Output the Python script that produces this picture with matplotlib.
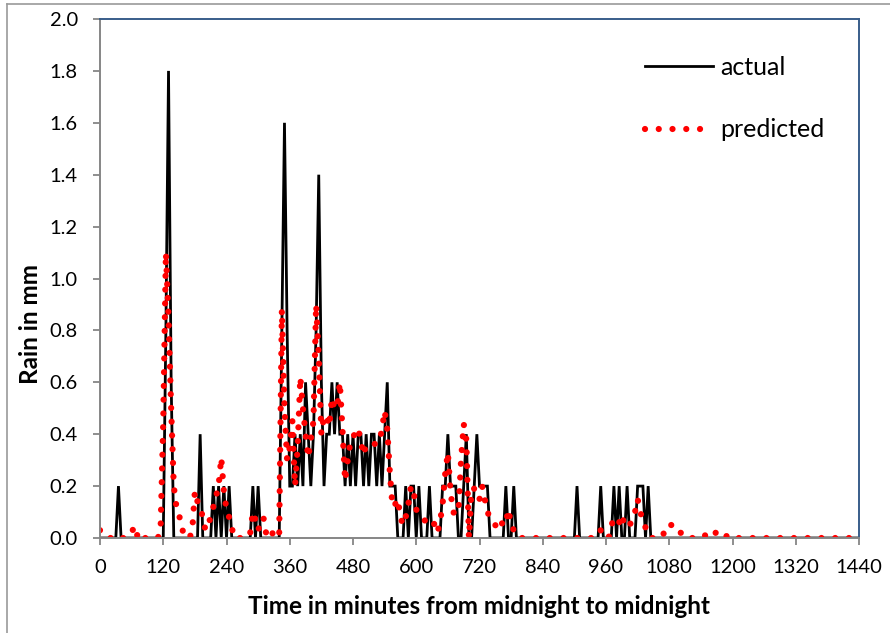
import matplotlib
matplotlib.use("Agg")
import matplotlib.pyplot as plt
import numpy as np
from matplotlib.lines import Line2D

# time step 5 minutes, 0..1440
step = 5
# actual rain (mm), one row per hour (12 values, 5-min steps)
actual_rows = [
    [0, 0, 0, 0, 0, 0, 0, 0.2, 0, 0, 0, 0],
    [0, 0, 0, 0, 0, 0, 0, 0, 0, 0, 0, 0],
    [0, 0.8, 1.8, 0.6, 0, 0, 0, 0, 0, 0, 0, 0],
    [0, 0, 0.4, 0, 0, 0, 0, 0.2, 0, 0.2, 0, 0.2],
    [0, 0.2, 0, 0, 0, 0, 0, 0, 0, 0, 0.2, 0],
    [0.2, 0, 0, 0, 0, 0, 0, 0, 0, 0.8, 1.6, 0.8],
    [0.2, 0.2, 0.4, 0.2, 0.4, 0.2, 0.6, 0.4, 0.2, 0.4, 0.8, 1.4],
    [0.6, 0.2, 0.4, 0.4, 0.6, 0.4, 0.6, 0.4, 0.4, 0.2, 0.4, 0.2],
    [0.4, 0.2, 0.4, 0.4, 0.2, 0.4, 0.2, 0.4, 0.4, 0.2, 0.4, 0.2],
    [0.4, 0.6, 0.2, 0.2, 0.2, 0, 0, 0, 0.2, 0, 0.2, 0.2],
    [0, 0.2, 0, 0, 0, 0.2, 0, 0, 0, 0, 0.2, 0.2],
    [0.4, 0.2, 0.2, 0.2, 0, 0, 0.2, 0.4, 0, 0, 0.2, 0.4],
    [0.2, 0.2, 0.2, 0.2, 0, 0, 0, 0, 0, 0, 0.2, 0],
    [0, 0.2, 0, 0, 0, 0, 0, 0, 0, 0, 0, 0],
    [0, 0, 0, 0, 0, 0, 0, 0, 0, 0, 0, 0],
    [0, 0.2, 0, 0, 0, 0, 0, 0, 0, 0, 0.2, 0],
    [0, 0, 0, 0.2, 0, 0.2, 0, 0, 0.2, 0, 0, 0],
    [0.2, 0.2, 0.2, 0, 0.2, 0, 0, 0, 0, 0, 0, 0],
    [0, 0, 0, 0, 0, 0, 0, 0, 0, 0, 0, 0],
    [0, 0, 0, 0, 0, 0, 0, 0, 0, 0, 0, 0],
    [0, 0, 0, 0, 0, 0, 0, 0, 0, 0, 0, 0],
    [0, 0, 0, 0, 0, 0, 0, 0, 0, 0, 0, 0],
    [0, 0, 0, 0, 0, 0, 0, 0, 0, 0, 0, 0],
    [0, 0, 0, 0, 0, 0, 0, 0, 0, 0, 0, 0],
    [0],
]
# predicted rain (mm)
predicted_rows = [
    [0.03, 0.02, 0.01, 0, 0, 0.005, 0.01, 0.005, 0, 0, 0, 0.01],
    [0.02, 0.045, 0.01, 0.02, 0.025, 0, 0, 0, 0, 0, 0, 0.04],
    [0.45, 1.1, 0.85, 0.5, 0.2, 0.12, 0.09, 0.04, 0.01, 0, 0, 0.03],
    [0.18, 0.14, 0.12, 0.08, 0.03, 0.05, 0.08, 0.12, 0.16, 0.2, 0.31, 0.18],
    [0.11, 0.08, 0.04, 0, 0, 0, 0, 0, 0, 0.02, 0.1, 0.07],
    [0.03, 0.06, 0.08, 0.02, 0, 0, 0.04, 0.03, 0.02, 0.88, 0.5, 0.3],
    [0.35, 0.45, 0.2, 0.35, 0.62, 0.5, 0.4, 0.31, 0.38, 0.45, 0.9, 0.7],
    [0.4, 0.47, 0.47, 0.43, 0.54, 0.5, 0.5, 0.6, 0.42, 0.22, 0.3, 0.37],
    [0.38, 0.42, 0.42, 0.37, 0.32, 0.36, 0.36, 0.36, 0.36, 0.37, 0.37, 0.42],
    [0.49, 0.42, 0.25, 0.12, 0.13, 0.15, 0.08, 0.05, 0.08, 0.13, 0.2, 0.18],
    [0.11, 0.09, 0.08, 0.07, 0.06, 0.06, 0.07, 0.05, 0.02, 0.06, 0.13, 0.25],
    [0.33, 0.18, 0.1, 0.09, 0.1, 0.3, 0.44, 0.38, 0.0, 0.19, 0.19, 0.19],
    [0.15, 0.2, 0.15, 0.1, 0.08, 0.06, 0.05, 0.03, 0.04, 0.07, 0.06, 0.11],
    [0.05, 0.03, 0.01, 0, 0, 0, 0, 0, 0, 0, 0, 0],
    [0, 0, 0, 0, 0, 0, 0, 0, 0, 0, 0, 0],
    [0, 0, 0, 0, 0, 0, 0, 0, 0, 0.01, 0.03, 0.02],
    [0, 0, 0.05, 0.07, 0.08, 0.06, 0.09, 0.05, 0.04, 0.05, 0.07, 0.1],
    [0.15, 0.1, 0.07, 0.04, 0.02, 0, 0, 0, 0, 0, 0.02, 0.05],
    [0.05, 0.05, 0.05, 0.03, 0.02, 0.02, 0.02, 0.01, 0, 0, 0, 0],
    [0, 0.01, 0.01, 0, 0.01, 0.02, 0.02, 0.01, 0, 0, 0.01, 0.01],
    [0, 0, 0, 0, 0, 0, 0, 0, 0, 0, 0, 0],
    [0, 0, 0, 0, 0, 0, 0, 0, 0, 0, 0, 0],
    [0, 0, 0, 0, 0, 0, 0, 0, 0, 0, 0, 0],
    [0, 0, 0, 0, 0, 0, 0, 0, 0, 0, 0, 0],
    [0],
]
x_ticks = [0, 120, 240, 360, 480, 600, 720, 840, 960, 1080, 1200, 1320, 1440]
y_ticks = [0.0, 0.2, 0.4, 0.6, 0.8, 1.0, 1.2, 1.4, 1.6, 1.8, 2.0]

actual = [v for r in actual_rows for v in r]
predicted = [v for r in predicted_rows for v in r]
minutes = np.arange(len(actual)) * step

plt.rcParams['font.family'] = ['Lato', 'DejaVu Sans']

W, H = 890, 633
fig = plt.figure(figsize=(W/100, H/100), dpi=100)
ax = fig.add_axes([100/W, 1 - 538/H, (859-100)/W, (538-19)/H])

ax.plot(minutes, actual, color='black', lw=2.0, label='actual', solid_joinstyle='miter')
ax.plot(minutes, predicted, color='#FF0000', lw=4.5, linestyle=(0, (0.001, 2.2)),
        dash_capstyle='round', label='predicted')

ax.set_xlim(0, 1440)
ax.set_ylim(0, 2.0)
ax.set_xticks(x_ticks)
ax.set_yticks(y_ticks)
ax.set_yticklabels([f"{v:.1f}" for v in y_ticks])
ax.tick_params(axis='both', direction='out', length=5, width=1.3, color='#868686',
               labelsize=14.5, labelcolor='black')
ax.tick_params(axis='x', pad=10)
ax.tick_params(axis='y', pad=11)

for s in ['left', 'bottom']:
    ax.spines[s].set_color('#868686')
    ax.spines[s].set_linewidth(1.4)
for s in ['top', 'right']:
    ax.spines[s].set_color('#385D8A')
    ax.spines[s].set_linewidth(1.4)

ax.set_xlabel('Time in minutes from midnight to midnight', fontsize=17.5, fontweight='bold')
ax.set_ylabel('Rain in mm', fontsize=17.5, fontweight='bold')
ax.xaxis.label.set_va('center')
ax.yaxis.label.set_va('center')
ax.xaxis.set_label_coords(0.5, -(607-538)/519)
ax.yaxis.set_label_coords((30-100)/759, (538-324)/519)

leg = ax.legend(loc='center left', bbox_to_anchor=(645/W, 1 - 98.5/H),
                bbox_transform=fig.transFigure, frameon=False, fontsize=18,
                handlelength=2.72, handletextpad=0.28, labelspacing=1.58,
                borderpad=0, borderaxespad=0)

# outer chart border (gray)
fig.add_artist(Line2D([7/W, 7/W], [0, 1 - 4/H], color='#9A9A9A', lw=1.2))
fig.add_artist(Line2D([7/W, 1], [1 - 4/H, 1 - 4/H], color='#9A9A9A', lw=1.2))

fig.savefig('out.png', dpi=100)
